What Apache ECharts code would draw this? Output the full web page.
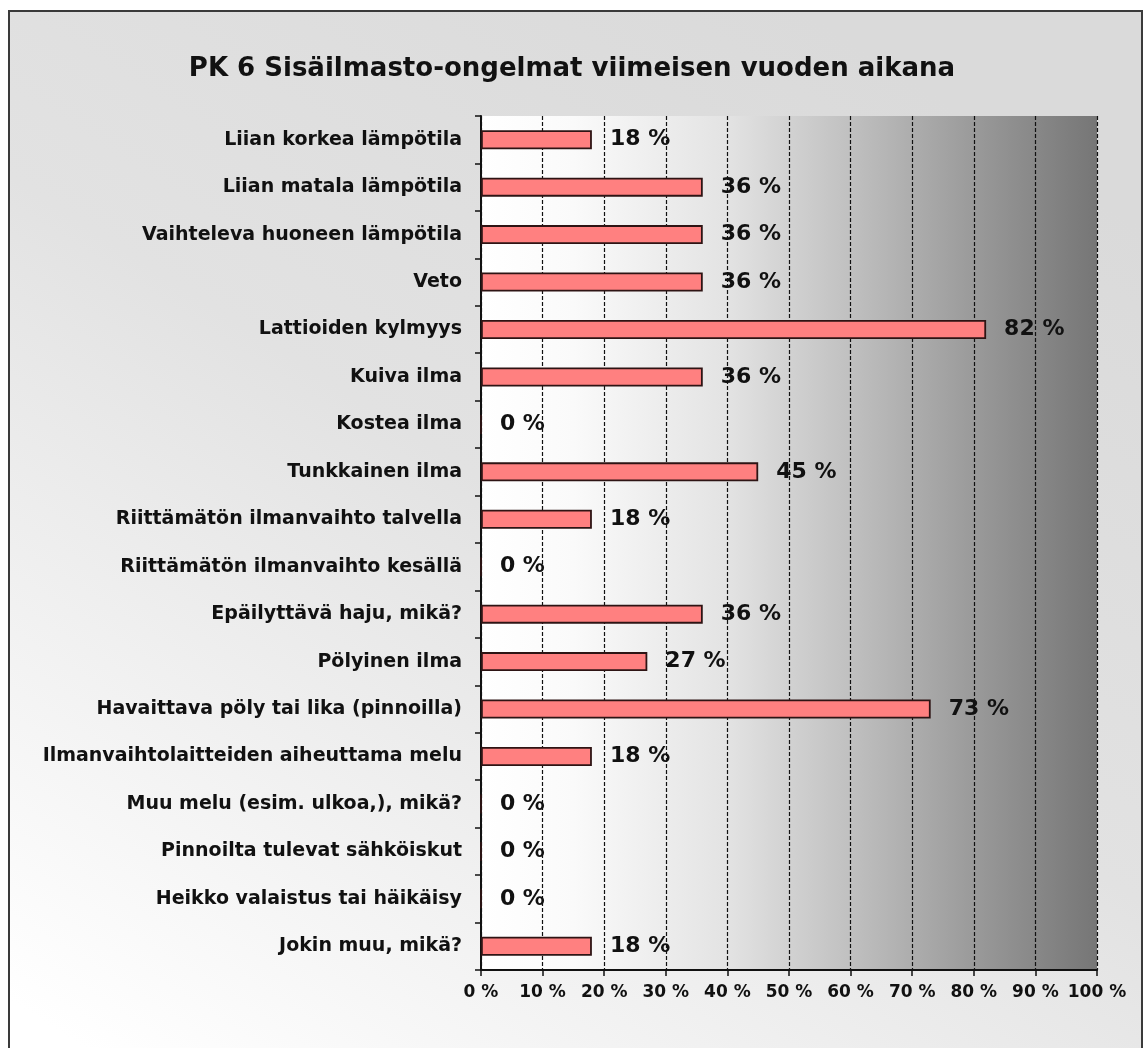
<!DOCTYPE html>
<html>
<head>
<meta charset="utf-8">
<script src="https://cdn.jsdelivr.net/npm/echarts@6/dist/echarts.min.js"></script>
<style>
  html, body { margin: 0; padding: 0; background: #fff; }
  #chart { width: 1144px; height: 1048px; }
</style>
</head>
<body>
<div id="chart"></div>
<script>
  const titleText = 'PK 6 Sisäilmasto-ongelmat viimeisen vuoden aikana'

  const categories = [
    'Liian korkea lämpötila',
    'Liian matala lämpötila',
    'Vaihteleva huoneen lämpötila',
    'Veto',
    'Lattioiden kylmyys',
    'Kuiva ilma',
    'Kostea ilma',
    'Tunkkainen ilma',
    'Riittämätön ilmanvaihto talvella',
    'Riittämätön ilmanvaihto kesällä',
    'Epäilyttävä haju, mikä?',
    'Pölyinen ilma',
    'Havaittava pöly tai lika (pinnoilla)',
    'Ilmanvaihtolaitteiden aiheuttama melu',
    'Muu melu (esim. ulkoa,), mikä?',
    'Pinnoilta tulevat sähköiskut',
    'Heikko valaistus tai häikäisy',
    'Jokin muu, mikä?',
  ]

  // percent of respondents
  const values = [18, 36, 36, 36, 82, 36, 0, 45, 18, 0, 36, 27, 73, 18, 0, 0, 0, 18]

  const xMin = 0
  const xMax = 100
  const xStep = 10

  const font = '"DejaVu Sans", Verdana, sans-serif'
  const chart = echarts.init(document.getElementById('chart'), undefined, { renderer: 'canvas' })

  const option = {
    animation: false,
    graphic: [
      {
        type: 'rect',
        z: -10,
        shape: { x: 9, y: 11, width: 1133, height: 1060 },
        style: {
          fill: new echarts.graphic.LinearGradient(0.7, 0, 0.1, 1, [
            { offset: 0, color: '#dadada' },
            { offset: 0.45, color: '#e2e2e2' },
            { offset: 1, color: '#ffffff' },
          ]),
          stroke: '#3a3a3a',
          lineWidth: 2,
        },
        silent: true,
      },
    ],
    title: {
      text: titleText,
      left: 'center',
      top: 51,
      textStyle: { fontFamily: font, fontWeight: 'bold', fontSize: 26, color: '#111' },
    },
    grid: {
      left: 481,
      right: 47,
      top: 116,
      bottom: 78,
      show: true,
      borderWidth: 0,
      backgroundColor: new echarts.graphic.LinearGradient(0, 0, 1, 0, [
        { offset: 0, color: '#ffffff' },
        { offset: 0.15, color: '#fafafa' },
        { offset: 0.4, color: '#e3e3e3' },
        { offset: 0.6, color: '#c0c0c0' },
        { offset: 0.8, color: '#9a9a9a' },
        { offset: 1, color: '#767676' },
      ]),
    },
    xAxis: {
      type: 'value',
      min: xMin,
      max: xMax,
      interval: xStep,
      axisLine: { show: true, lineStyle: { color: '#111', width: 2 } },
      axisTick: { show: true, length: 6, lineStyle: { color: '#111', width: 1.5 } },
      axisLabel: {
        formatter: '{value} %',
        fontFamily: font,
        fontWeight: 'bold',
        fontSize: 17,
        color: '#111',
        margin: 14,
      },
      splitLine: { show: true, lineStyle: { color: '#111', type: [4, 2], width: 1.2 } },
    },
    yAxis: {
      type: 'category',
      data: categories,
      inverse: true,
      axisLine: { show: true, lineStyle: { color: '#111', width: 2 } },
      axisTick: { show: true, length: 6, lineStyle: { color: '#111', width: 1.5 } },
      axisLabel: {
        fontFamily: font,
        fontWeight: 'bold',
        fontSize: 19,
        color: '#111',
        margin: 19,
      },
    },
    series: [
      {
        type: 'bar',
        data: values,
        barWidth: 19,
        itemStyle: { color: '#ff8080', borderColor: '#2e1414', borderWidth: 1.8 },
        label: {
          show: true,
          position: 'right',
          distance: 18,
          formatter: '{c} %',
          fontFamily: font,
          fontWeight: 'bold',
          fontSize: 22,
          color: '#111',
        },
      },
    ],
  }

  chart.setOption(option)
</script>
</body>
</html>
